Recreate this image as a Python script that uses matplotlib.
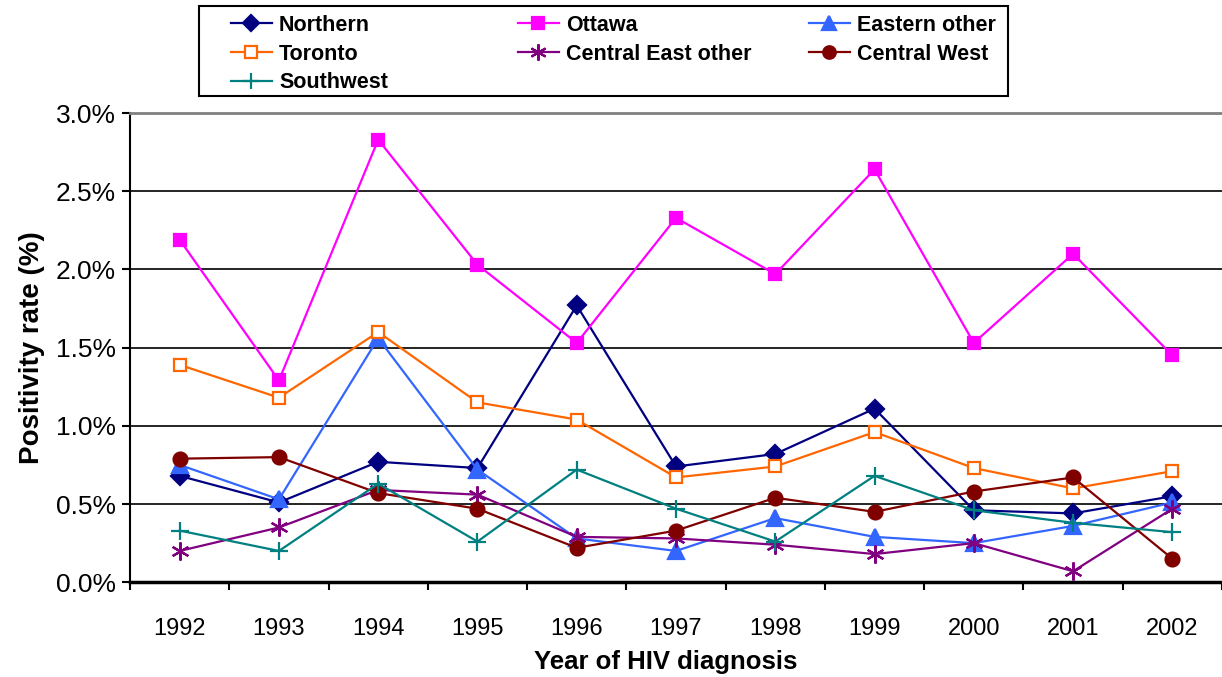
import numpy as np
import matplotlib
matplotlib.use("Agg")
import matplotlib.pyplot as plt
from matplotlib.patches import Rectangle
from matplotlib.ticker import FuncFormatter, FixedLocator

plt.rcParams['font.family'] = ['Liberation Sans', 'DejaVu Sans']

years = ['1992', '1993', '1994', '1995', '1996', '1997', '1998', '1999', '2000', '2001', '2002']

northern = [0.68, 0.51, 0.77, 0.73, 1.77, 0.74, 0.82, 1.11, 0.46, 0.44, 0.55]
ottawa = [2.19, 1.29, 2.83, 2.03, 1.53, 2.33, 1.97, 2.64, 1.53, 2.10, 1.45]
eastern_other = [0.75, 0.53, 1.56, 0.72, 0.28, 0.20, 0.41, 0.29, 0.25, 0.36, 0.51]
toronto = [1.39, 1.18, 1.60, 1.15, 1.04, 0.67, 0.74, 0.96, 0.73, 0.60, 0.71]
central_east_other = [0.20, 0.35, 0.59, 0.56, 0.29, 0.28, 0.24, 0.18, 0.25, 0.07, 0.47]
central_west = [0.79, 0.80, 0.57, 0.47, 0.22, 0.33, 0.54, 0.45, 0.58, 0.67, 0.15]
southwest = [0.33, 0.20, 0.63, 0.26, 0.72, 0.47, 0.26, 0.68, 0.46, 0.38, 0.32]

fig = plt.figure(figsize=(12.22, 6.77), dpi=100)
ax = fig.add_axes([0.1064, 0.140, 0.8936, 0.693])

x = np.arange(len(years))

# series: (label, values, color, marker, size, filled)
series = [
    ('Northern', northern, '#000080', 'D', 9, True),
    ('Ottawa', ottawa, '#FF00FF', 's', 9, True),
    ('Eastern other', eastern_other, '#3366FF', '^', 11, True),
    ('Toronto', toronto, '#FF6600', 's', 9, False),
    ('Central East other', central_east_other, '#800080', (6, 2, 0), 13, True),
    ('Central West', central_west, '#800000', 'o', 10, True),
    ('Southwest', southwest, '#008080', '+', 13, True),
]

handles = {}
for label, vals, color, marker, ms, filled in series:
    ln, = ax.plot(x, vals, color=color, lw=1.6, marker=marker, markersize=ms,
                  markerfacecolor=color if filled else 'white',
                  markeredgecolor=color, markeredgewidth=1.6, label=label,
                  clip_on=False, zorder=3)
    handles[label] = ln

ax.set_xlim(-0.5, len(years) - 0.5)
ax.set_ylim(0, 3.0)
ax.yaxis.set_major_locator(FixedLocator(np.arange(0, 3.01, 0.5)))
ax.yaxis.set_major_formatter(FuncFormatter(lambda v, p: f'{v:.1f}%'))
ax.yaxis.grid(True, color='black', lw=1.2)
ax.set_axisbelow(True)

ax.set_xticks(x)
ax.set_xticklabels(years)
ax.set_xticks(np.arange(-0.5, len(years), 1.0), minor=True)
ax.tick_params(axis='x', which='major', length=0, pad=26, labelsize=17)
ax.tick_params(axis='x', which='minor', length=6, width=1.5, direction='out')
ax.tick_params(axis='y', length=6, width=1.5, direction='out', labelsize=19, pad=4)

ax.spines['right'].set_visible(False)
ax.spines['top'].set_color('#808080')
ax.spines['top'].set_linewidth(2)
ax.spines['left'].set_linewidth(1.5)
ax.spines['bottom'].set_linewidth(2.5)

ax.set_xlabel('Year of HIV diagnosis', fontsize=18.5, fontweight='bold', labelpad=7)
ax.xaxis.label.set_x(0.491)
ax.set_ylabel('Positivity rate (%)', fontsize=20, fontweight='bold', labelpad=8)

# legend: three columns in one box
columns = [['Northern', 'Toronto', 'Southwest'],
           ['Ottawa', 'Central East other'],
           ['Eastern other', 'Central West']]
col_x = [231, 518, 809]
for labels, cx in zip(columns, col_x):
    fig.legend([handles[k] for k in labels], labels, loc='upper left',
               bbox_to_anchor=(cx / 1222, 0.978), frameon=False,
               prop={'weight': 'bold', 'size': 15.5}, handlelength=1.9,
               handletextpad=0.33, labelspacing=0.36, borderpad=0,
               borderaxespad=0, markerscale=0.9)
fig.patches.append(Rectangle((199 / 1222, 1 - 96 / 677), 809 / 1222, 90 / 677,
                             transform=fig.transFigure, fill=False,
                             edgecolor='black', lw=1.5))

fig.savefig('out.png', dpi=100)
